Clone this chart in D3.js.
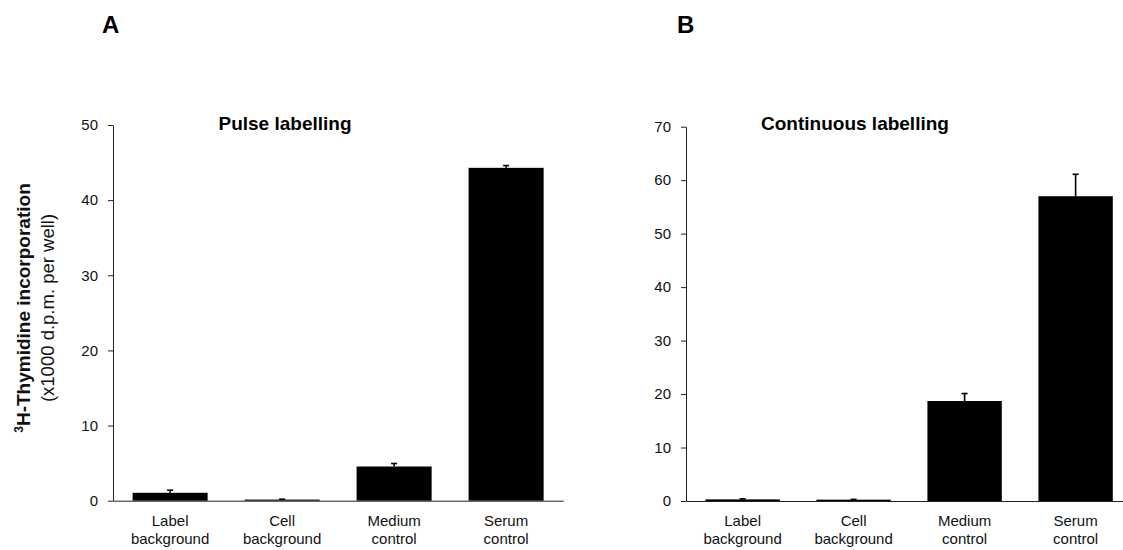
<!DOCTYPE html>
<html>
<head>
<meta charset="utf-8">
<script src="https://cdn.jsdelivr.net/npm/d3@7"></script>
<style>
  body { margin: 0; background: #fff; }
  svg { display: block; font-family: "Liberation Sans", Arial, sans-serif; }
  .domain { stroke: #222; }
  .tick line { stroke: #222; }
</style>
</head>
<body>
<svg id="canvas"></svg>
<script>
// data (x1000 d.p.m. per well)
let categories = [['Label', 'background'], ['Cell', 'background'], ['Medium', 'control'], ['Serum', 'control']];
let pulseMeans = [1.05, 0.15, 4.55, 44.3];
let pulseErrors = [0.35, 0.05, 0.4, 0.3];
let continuousMeans = [0.3, 0.25, 18.7, 57.0];
let continuousErrors = [0.1, 0.05, 1.4, 4.1];
let pulseTicks = [0, 10, 20, 30, 40, 50];
let continuousTicks = [0, 10, 20, 30, 40, 50, 60, 70];

let width = 1123;
let height = 550;

let canvas = d3.select('#canvas')
  .attr('width', width)
  .attr('height', height);

let drawPanel = (opts) => {
  let names = categories.map(c => c.join(' '));

  let xScale = d3.scaleBand()
    .domain(names)
    .range([opts.left, opts.left + opts.step * 4.02])
    .paddingInner(0.33)
    .paddingOuter(0.175);

  let yScale = d3.scaleLinear()
    .domain([0, d3.max(opts.ticks)])
    .range([opts.bottom, opts.top]);

  let g = canvas.append('g');

  // bars
  g.selectAll('rect.bar')
    .data(opts.means)
    .enter()
    .append('rect')
    .attr('class', 'bar')
    .attr('fill', '#000')
    .attr('x', (d, i) => xScale(names[i]))
    .attr('width', xScale.bandwidth())
    .attr('y', d => yScale(d))
    .attr('height', d => yScale(0) - yScale(d));

  // error bars, upper half only
  let errs = opts.means.map((m, i) => ({ m: m, e: opts.errors[i], name: names[i] }));
  let err = g.selectAll('g.err')
    .data(errs)
    .enter()
    .append('g')
    .attr('class', 'err')
    .attr('stroke', '#000')
    .attr('stroke-width', 1.6);
  err.append('line')
    .attr('x1', d => xScale(d.name) + xScale.bandwidth() / 2)
    .attr('x2', d => xScale(d.name) + xScale.bandwidth() / 2)
    .attr('y1', d => yScale(d.m))
    .attr('y2', d => yScale(d.m + d.e));
  err.append('line')
    .attr('x1', d => xScale(d.name) + xScale.bandwidth() / 2 - 3)
    .attr('x2', d => xScale(d.name) + xScale.bandwidth() / 2 + 3)
    .attr('y1', d => yScale(d.m + d.e))
    .attr('y2', d => yScale(d.m + d.e));

  // axes
  let yAxis = d3.axisLeft(yScale)
    .tickValues(opts.ticks)
    .tickSize(5)
    .tickSizeOuter(0)
    .tickPadding(10);
  g.append('g')
    .attr('transform', 'translate(' + opts.left + ', 0)')
    .call(yAxis)
    .call(a => a.selectAll('text').attr('font-size', 15).attr('fill', '#111').attr('font-family', null));

  let xAxis = d3.axisBottom(xScale)
    .tickSize(0)
    .tickSizeOuter(0)
    .tickFormat('');
  let xg = g.append('g')
    .attr('transform', 'translate(0, ' + opts.bottom + ')')
    .call(xAxis);
  xg.selectAll('.tick text').remove();
  xg.selectAll('.tick')
    .append('text')
    .attr('fill', '#111')
    .attr('font-size', 15)
    .attr('font-family', null)
    .attr('text-anchor', 'middle')
    .each(function (d, i) {
      let t = d3.select(this);
      t.append('tspan').attr('x', 0).attr('y', 25).text(categories[i][0]);
      t.append('tspan').attr('x', 0).attr('y', 43).text(categories[i][1]);
    });

  // titles
  g.append('text')
    .attr('x', opts.titleX)
    .attr('y', 130)
    .attr('font-size', 19)
    .attr('font-weight', 'bold')
    .attr('text-anchor', 'middle')
    .text(opts.title);

  g.append('text')
    .attr('x', opts.letterX)
    .attr('y', 33)
    .attr('font-size', 24)
    .attr('font-weight', 'bold')
    .text(opts.letter);
};

drawPanel({
  left: 113, step: 112, top: 125, bottom: 500.7,
  means: pulseMeans, errors: pulseErrors, ticks: pulseTicks,
  title: 'Pulse labelling', titleX: 285, letter: 'A', letterX: 102
});

drawPanel({
  left: 686, step: 111, top: 126.7, bottom: 501,
  means: continuousMeans, errors: continuousErrors, ticks: continuousTicks,
  title: 'Continuous labelling', titleX: 855, letter: 'B', letterX: 677
});

// y axis label
let yLabel = canvas.append('text')
  .attr('transform', 'translate(0, 308) rotate(-90)')
  .attr('text-anchor', 'middle')
  .attr('fill', '#111');
let line1 = yLabel.append('tspan')
  .attr('x', 0)
  .attr('y', 30)
  .attr('font-size', 19)
  .attr('font-weight', 'bold');
line1.append('tspan').attr('font-size', 12).attr('dy', -7).text('3');
line1.append('tspan').attr('dy', 7).text('H-Thymidine incorporation');
yLabel.append('tspan')
  .attr('x', 0)
  .attr('y', 54)
  .attr('font-size', 18.5)
  .text('(x1000 d.p.m. per well)');
</script>
</body>
</html>
